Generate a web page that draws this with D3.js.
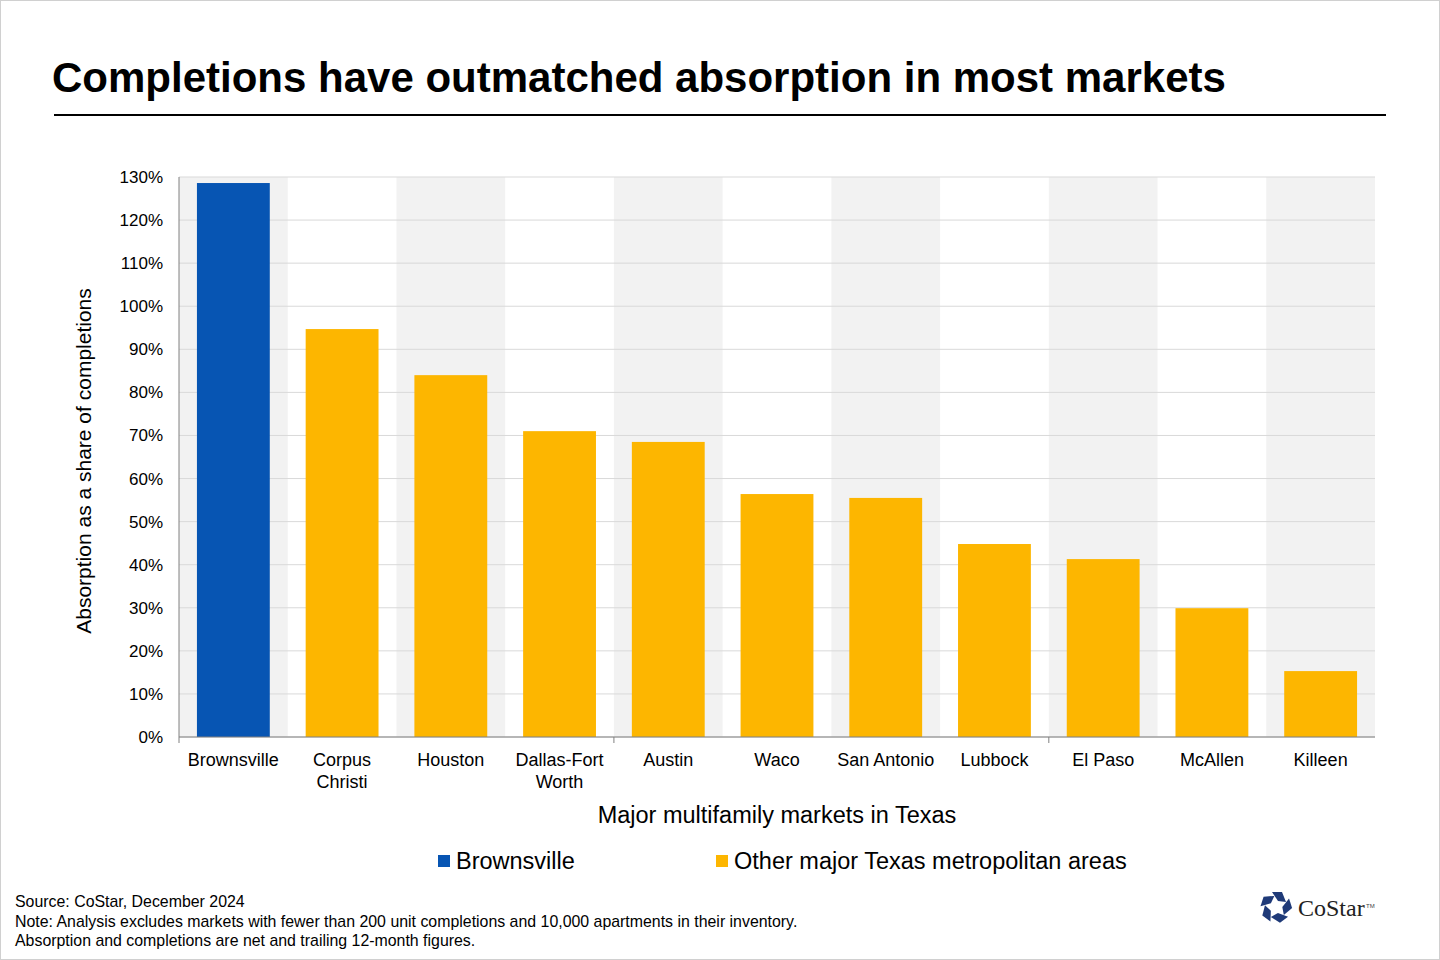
<!DOCTYPE html>
<html><head><meta charset="utf-8">
<script src="https://cdn.jsdelivr.net/npm/d3@7"></script>
<style>body{margin:0;background:#fff;font-family:Arial,"Liberation Sans",sans-serif}</style>
</head><body>
<svg id="c" width="1440" height="960"></svg>
<script>
const categories=["Brownsville","Corpus Christi","Houston","Dallas-Fort Worth","Austin","Waco","San Antonio","Lubbock","El Paso","McAllen","Killeen"];
const labelLines=[["Brownsville"],["Corpus","Christi"],["Houston"],["Dallas-Fort","Worth"],["Austin"],["Waco"],["San Antonio"],["Lubbock"],["El Paso"],["McAllen"],["Killeen"]];
const values=[128.6,94.7,84.0,71.0,68.5,56.4,55.5,44.8,41.3,29.9,15.3];
const yTicks=[0,10,20,30,40,50,60,70,80,90,100,110,120,130];
const seriesNames=["Brownsville","Other major Texas metropolitan areas"];
const colors=["#0755B3","#FDB600"];

const svg=d3.select("#c");
svg.append("rect").attr("x",0.5).attr("y",0.5).attr("width",1439).attr("height",959).attr("fill","#fff").attr("stroke","#d0d0d0");
svg.append("text").attr("x",52).attr("y",92).attr("font-size",42).attr("font-weight","bold").attr("fill","#000").text("Completions have outmatched absorption in most markets");
svg.append("line").attr("x1",54).attr("x2",1386).attr("y1",115).attr("y2",115).attr("stroke","#000").attr("stroke-width",2);

const L=179,R=1375,T=177,B=737;
const x=d3.scaleBand().domain(categories).range([L,R]).paddingInner(0.33).paddingOuter(0.165);
const xb=d3.scaleBand().domain(categories).range([L,R]);
const y=d3.scaleLinear().domain([0,130]).range([B,T]);
const g=svg.append("g");
categories.forEach((c,i)=>{ if(i%2===0) g.append("rect").attr("x",xb(c)).attr("y",T).attr("width",xb.bandwidth()).attr("height",B-T).attr("fill","#f2f2f2");});
yTicks.forEach(t=>g.append("line").attr("x1",L).attr("x2",R).attr("y1",y(t)).attr("y2",y(t)).attr("stroke","#d9d9d9"));
g.selectAll(".bar").data(values).join("rect").attr("x",(d,i)=>x(categories[i])).attr("width",x.bandwidth()).attr("y",d=>y(d)).attr("height",d=>B-y(d)).attr("fill",(d,i)=>i===0?colors[0]:colors[1]);
g.append("line").attr("x1",L).attr("x2",R).attr("y1",B).attr("y2",B).attr("stroke","#808080");
g.append("line").attr("x1",L).attr("x2",L).attr("y1",T).attr("y2",B).attr("stroke","#808080");
[0,4,8].forEach(i=>g.append("line").attr("x1",xb(categories[i])).attr("x2",xb(categories[i])).attr("y1",B).attr("y2",B+6).attr("stroke","#808080"));
yTicks.forEach(t=>g.append("text").attr("x",163).attr("y",y(t)+6).attr("text-anchor","end").attr("font-size",17).attr("fill","#000").text(t+"%"));
labelLines.forEach((ls,i)=>{const cx=xb(categories[i])+xb.bandwidth()/2;ls.forEach((l,j)=>g.append("text").attr("x",cx).attr("y",766+j*22).attr("text-anchor","middle").attr("font-size",18).attr("fill","#000").text(l));});
svg.append("text").attr("x",777).attr("y",823).attr("text-anchor","middle").attr("font-size",23.5).text("Major multifamily markets in Texas");
svg.append("text").attr("transform","translate(91,461) rotate(-90)").attr("text-anchor","middle").attr("font-size",21).text("Absorption as a share of completions");
const lx=[438,716];
seriesNames.forEach((s,i)=>{svg.append("rect").attr("x",lx[i]).attr("y",855).attr("width",12).attr("height",12).attr("fill",colors[i]);
svg.append("text").attr("x",lx[i]+18).attr("y",869).attr("font-size",23.5).text(s);});
["Source: CoStar, December 2024","Note: Analysis excludes markets with fewer than 200 unit completions and 10,000 apartments in their inventory.","Absorption and completions are net and trailing 12-month figures."].forEach((t,i)=>svg.append("text").attr("x",15).attr("y",907+i*19.5).attr("font-size",15.9).attr("fill","#000").text(t));
// logo
const lg=svg.append("g").attr("transform","translate(1276,907)");
for(let k=0;k<5;k++){const a=k*72;lg.append("path").attr("d","M-4,-15 L6,-15 L10,-5 L2,-6 Z").attr("fill","#1f3a78").attr("transform",`rotate(${a})`);}
svg.append("text").attr("x",1298).attr("y",916).attr("font-size",24).attr("font-family","'Liberation Serif',serif").attr("fill","#222").text("CoStar");
svg.append("text").attr("x",1366).attr("y",908).attr("font-size",6).attr("fill","#444").text("TM");
</script></body></html>
